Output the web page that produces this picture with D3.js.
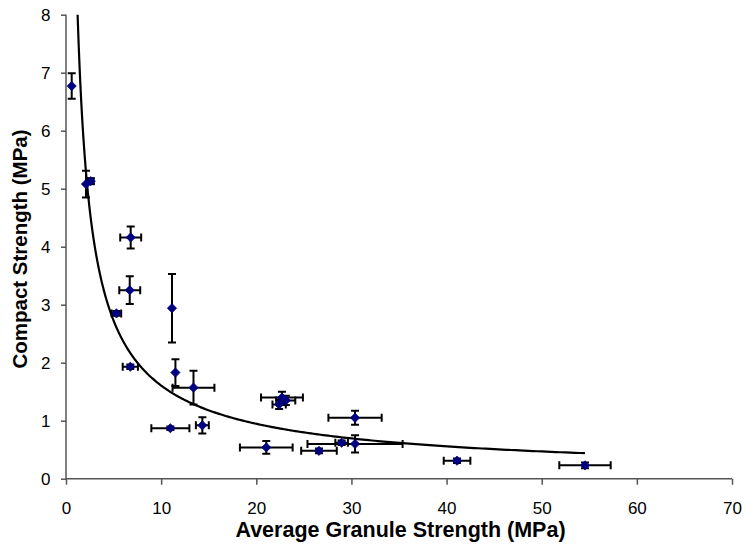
<!DOCTYPE html>
<html>
<head>
<meta charset="utf-8">
<script src="https://cdn.jsdelivr.net/npm/d3@7"></script>
<style>
  html, body { margin: 0; padding: 0; background: #fff; }
  svg { display: block; }
  text { font-family: "Liberation Sans", Arial, sans-serif; }
</style>
</head>
<body>
<svg id="chart" width="746" height="550"></svg>
<script>
// ---- data ----
const granuleStrength = [0.6, 2.1, 2.6, 6.8, 6.7, 5.3, 11.14, 6.76, 11.5, 13.4, 10.97, 14.33, 22.7, 22.4, 23.1, 30.38, 21.05, 26.59, 28.97, 30.38, 41.1, 54.55];
const compactStrength = [6.77, 5.08, 5.13, 4.16, 3.25, 2.85, 2.94, 1.93, 1.83, 1.57, 0.87, 0.92, 1.40, 1.28, 1.35, 1.05, 0.54, 0.48, 0.62, 0.60, 0.31, 0.23];
const granuleError = [0, 0, 0.3, 1.1, 1.1, 0.5, 0, 0.8, 0, 2.2, 2.0, 0.68, 2.2, 0.7, 1.0, 2.8, 2.77, 1.87, 0.66, 5.0, 1.4, 2.7];
const compactError = [0.22, 0.23, 0.05, 0.19, 0.24, 0.04, 0.59, 0.04, 0.23, 0.29, 0.03, 0.14, 0.1, 0.08, 0.08, 0.12, 0.11, 0.04, 0.04, 0.15, 0.04, 0.05];
const xTicks = [0, 10, 20, 30, 40, 50, 60, 70];
const yTicks = [0, 1, 2, 3, 4, 5, 6, 7, 8];
const xTitle = "Average Granule Strength (MPa)";
const yTitle = "Compact Strength (MPa)";

const points = granuleStrength.map((x, i) => ({ x, y: compactStrength[i], ex: granuleError[i], ey: compactError[i] }));

// ---- layout ----
const pLeft = 66, pRight = 732, pTop = 14.7, pBottom = 478.7;
const svg = d3.select("#chart");
const x = d3.scaleLinear().domain([0, 70]).range([pLeft, pRight]);
const y = d3.scaleLinear().domain([0, 8]).range([pBottom, pTop]);

svg.append("defs").append("clipPath").attr("id", "plotClip")
  .append("rect").attr("x", pLeft).attr("y", pTop).attr("width", pRight - pLeft).attr("height", pBottom - pTop);

// axes
const xAxis = svg.append("g").attr("transform", `translate(0,${pBottom})`)
  .call(d3.axisBottom(x).tickValues(xTicks).tickSize(6).tickPadding(17).tickFormat(d3.format("d")));
const yAxis = svg.append("g").attr("transform", `translate(${pLeft},0)`)
  .call(d3.axisLeft(y).tickValues(yTicks).tickSize(5).tickPadding(10.5).tickFormat(d3.format("d")));
[xAxis, yAxis].forEach(g => {
  g.select(".domain").attr("stroke", "#555").attr("stroke-width", 1.5);
  g.selectAll(".tick line").attr("stroke", "#555").attr("stroke-width", 1.5);
  g.selectAll(".tick text").attr("font-size", 17).attr("fill", "#000")
    .attr("font-family", "'Liberation Sans', Arial, sans-serif");
});
xAxis.selectAll(".domain").attr("d", `M${pLeft},0H${pRight}`);
yAxis.selectAll(".domain").attr("d", `M0,${pBottom}V${pTop}`);

// titles
svg.append("text").attr("x", 400.5).attr("y", 536.5)
  .attr("text-anchor", "middle").attr("font-size", 21.5).attr("font-weight", "bold").text(xTitle);
svg.append("text").attr("transform", `translate(27,249) rotate(-90)`)
  .attr("text-anchor", "middle").attr("font-size", 20.5).attr("font-weight", "bold").text(yTitle);

// ---- power-law trendline fitted to the data (least squares in log-log) ----
const lx = points.map(p => Math.log(p.x)), ly = points.map(p => Math.log(p.y));
const mx = d3.mean(lx), my = d3.mean(ly);
const b = d3.sum(lx, (v, i) => (v - mx) * (ly[i] - my)) / d3.sum(lx, v => (v - mx) * (v - mx));
const a = Math.exp(my - b * mx);
const xMin = d3.min(granuleStrength), xMax = d3.max(granuleStrength);
const xStart = Math.max(xMin, Math.pow(8.3 / a, 1 / b));
const trend = d3.range(0, 401).map(i => {
  const xv = xStart * Math.pow(xMax / xStart, i / 400);
  return [xv, a * Math.pow(xv, b)];
});
svg.append("path").datum(trend)
  .attr("clip-path", "url(#plotClip)")
  .attr("fill", "none").attr("stroke", "#000").attr("stroke-width", 2.2)
  .attr("d", d3.line().x(d => x(d[0])).y(d => y(d[1])));

// ---- error bars ----
const cap = 4;
const eb = svg.append("g").attr("stroke", "#000").attr("stroke-width", 2).attr("fill", "none");
points.forEach(p => {
  if (p.ex > 0) {
    const x0 = x(p.x - p.ex), x1 = x(p.x + p.ex), yy = y(p.y);
    eb.append("path").attr("d", `M${x0},${yy}H${x1}M${x0},${yy - cap}V${yy + cap}M${x1},${yy - cap}V${yy + cap}`);
  }
  if (p.ey > 0) {
    const y0 = y(p.y - p.ey), y1 = y(p.y + p.ey), xx = x(p.x);
    eb.append("path").attr("d", `M${xx},${y0}V${y1}M${xx - cap},${y0}H${xx + cap}M${xx - cap},${y1}H${xx + cap}`);
  }
});

// ---- markers (diamonds) ----
const r = 4.6;
svg.append("g").selectAll("path.pt").data(points).join("path")
  .attr("class", "pt")
  .attr("fill", "#000080").attr("stroke", "#000080").attr("stroke-width", 0.8)
  .attr("d", d => {
    const cx = x(d.x), cy = y(d.y);
    return `M${cx},${cy - r}L${cx + r},${cy}L${cx},${cy + r}L${cx - r},${cy}Z`;
  });
</script>
</body>
</html>
